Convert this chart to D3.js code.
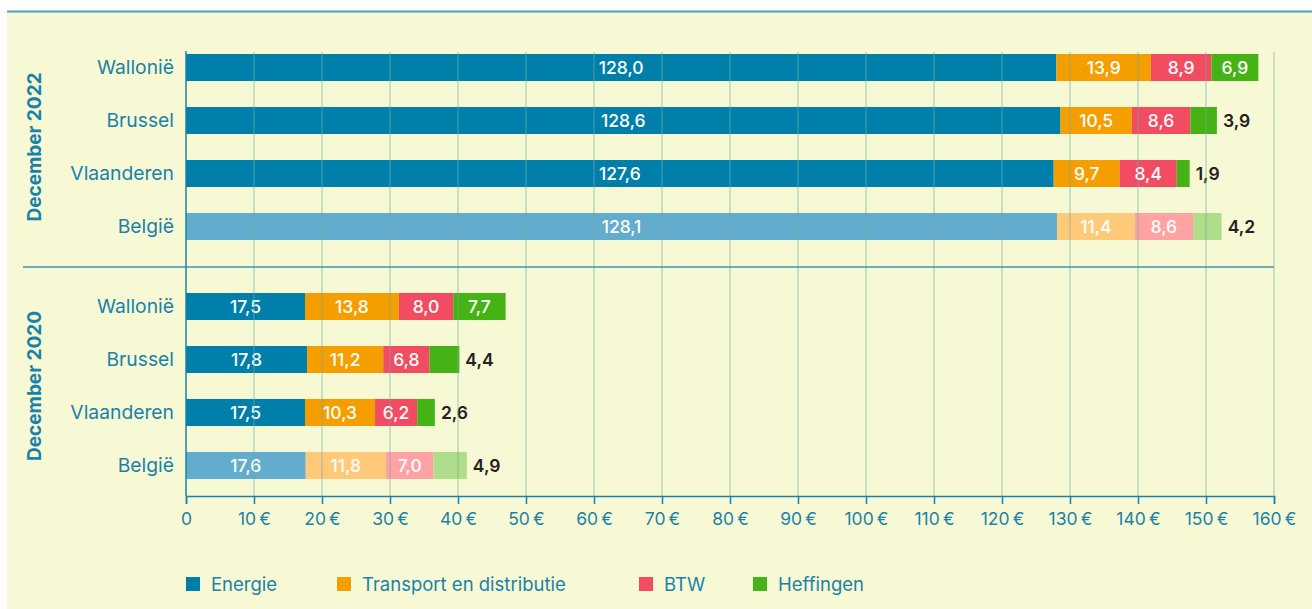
<!DOCTYPE html>
<html>
<head>
<meta charset="utf-8">
<script src="https://cdn.jsdelivr.net/npm/d3@7"></script>
<style>
	body { margin: 0; background: #fff; }
	svg { display: block; font-family: Inter, Roboto, sans-serif; }
</style>
</head>
<body>
<svg id="chart" width="1312" height="609"></svg>
<script>
var regions = ["Wallonië", "Brussel", "Vlaanderen", "België"]
var periods = ["December 2022", "December 2020"]
var components = ["Energie", "Transport en distributie", "BTW", "Heffingen"]

var energie2022 = [128.0, 128.6, 127.6, 128.1]
var transport2022 = [13.9, 10.5, 9.7, 11.4]
var btw2022 = [8.9, 8.6, 8.4, 8.6]
var heffingen2022 = [6.9, 3.9, 1.9, 4.2]

var energie2020 = [17.5, 17.8, 17.5, 17.6]
var transport2020 = [13.8, 11.2, 10.3, 11.8]
var btw2020 = [8.0, 6.8, 6.2, 7.0]
var heffingen2020 = [7.7, 4.4, 2.6, 4.9]

var xTicks = [0, 10, 20, 30, 40, 50, 60, 70, 80, 90, 100, 110, 120, 130, 140, 150, 160]

var colors = ["#007fab", "#f59e00", "#f24c63", "#45b315"]
var lightColors = ["#62acce", "#ffc97a", "#ffa2a4", "#b0dd8a"]
var teal = "#1a82aa"

function rows(e, t, b, h) {
	return regions.map(function (r, i) {
		return { region: r, values: [e[i], t[i], b[i], h[i]] }
	})
}
var groups = [
	{ period: periods[0], rows: rows(energie2022, transport2022, btw2022, heffingen2022), top: 41 },
	{ period: periods[1], rows: rows(energie2020, transport2020, btw2020, heffingen2020), top: 280 }
]

var svg = d3.select("#chart")

// panel
svg.append("rect").attr("x", 7).attr("y", 12).attr("width", 1305).attr("height", 597).style("fill", "#f7f9d4")
svg.append("line").attr("x1", 7).attr("x2", 1312).attr("y1", 11.5).attr("y2", 11.5)
	.style("stroke", "#4f9fbe").style("stroke-width", 2)

var x = d3.scaleLinear().domain([0, 160]).range([186, 1274])
var fmt = function (v) { return d3.format(".1f")(v).replace(".", ",") }

groups.forEach(function (grp) {
	var y = d3.scaleBand().domain(regions).range([grp.top, grp.top + 212]).paddingInner(0.49).paddingOuter(0.245)

	grp.rows.forEach(function (row) {
		var acc = 0
		var light = row.region === "België"
		row.values.forEach(function (v, j) {
			var x0 = acc
			acc += v
			svg.append("rect")
				.attr("x", x(x0))
				.attr("y", y(row.region))
				.attr("width", x(acc) - x(x0))
				.attr("height", y.bandwidth())
				.style("fill", light ? lightColors[j] : colors[j])
			var inside = v >= 6
			svg.append("text")
				.attr("x", inside ? (x(x0) + x(acc)) / 2 : x(acc) + 6)
				.attr("y", y(row.region) + y.bandwidth() / 2)
				.attr("dy", "0.36em")
				.attr("text-anchor", inside ? "middle" : "start")
				.style("font-size", "17.5px")
				.style("font-weight", inside ? 500 : 600)
				.style("fill", inside ? "#ffffff" : "#222222")
				.text(fmt(v))
		})
		svg.append("text")
			.attr("x", 174)
			.attr("y", y(row.region) + y.bandwidth() / 2)
			.attr("dy", "0.36em")
			.attr("text-anchor", "end")
			.style("font-size", "19.3px")
			.style("fill", teal)
			.text(row.region)
	})

	var cy = grp.top + 106
	svg.append("text")
		.attr("transform", "translate(41," + cy + ") rotate(-90)")
		.attr("text-anchor", "middle")
		.style("font-size", "19px")
		.style("font-weight", 700)
		.style("fill", teal)
		.text(grp.period)
})

// grid lines over bars
svg.append("g").selectAll("line")
	.data(xTicks.slice(1))
	.enter()
	.append("line")
	.attr("x1", function (d) { return x(d) }).attr("x2", function (d) { return x(d) })
	.attr("y1", 52).attr("y2", 496)
	.style("stroke", "#6fada5").style("stroke-opacity", 0.45).style("stroke-width", 1.5)

// separator
svg.append("line").attr("x1", 23).attr("x2", 1274).attr("y1", 267).attr("y2", 267)
	.style("stroke", "#3d95b5").style("stroke-width", 1.5)

svg.append("line").attr("x1", 186).attr("x2", 186).attr("y1", 51).attr("y2", 496)
	.style("stroke", teal).style("stroke-width", 1.5)

var axis = svg.append("g")
	.attr("transform", "translate(0,496)")
	.call(d3.axisBottom(x).tickValues(xTicks).tickSizeInner(8).tickSizeOuter(8).tickPadding(9)
		.tickFormat(function (d) { return d === 0 ? "0" : d + "\u2009€" }))
axis.select(".domain").style("stroke", teal).style("stroke-width", 1.5)
axis.selectAll(".tick line").style("stroke", teal).style("stroke-width", 1.5)
axis.selectAll(".tick text").style("fill", teal).style("font-size", "17.5px").style("font-family", "Inter, Roboto, sans-serif")

// legend
var legendX = [186, 337, 639, 753]
var legend = svg.append("g").selectAll("g")
	.data(components)
	.enter()
	.append("g")
	.attr("transform", function (d, i) { return "translate(" + legendX[i] + ",577)" })
legend.append("rect").attr("width", 14).attr("height", 14)
	.style("fill", function (d, i) { return colors[i] })
legend.append("text").attr("x", 25).attr("y", 7).attr("dy", "0.36em")
	.style("font-size", "18.5px").style("fill", teal)
	.text(function (d) { return d })
</script>
</body>
</html>
